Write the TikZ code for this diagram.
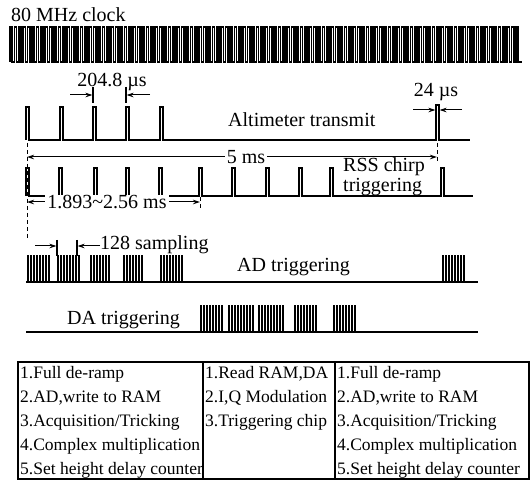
\documentclass[tikz,border=0pt]{standalone}
\usepackage{fontspec}
\setmainfont{Liberation Serif}
\usetikzlibrary{arrows.meta}
\begin{document}
\begin{tikzpicture}[x=1pt,y=-1pt,
  lbl/.style={font=\fontsize{20}{22}\selectfont, inner sep=0pt},
  tbl/.style={font=\fontsize{17.5}{24}\selectfont, inner sep=0pt, align=left, anchor=north west},
  sig/.style={line width=1.3pt, line join=miter},
  clk/.style={line width=1.5pt, line join=miter},
  wire/.style={line width=1.6pt},
  burst/.style={line width=0.9pt},
  tick/.style={line width=1.1pt},
  dimarr/.style={line width=1pt, -{Stealth[length=7pt,width=4.5pt]}},
  dimboth/.style={line width=1pt, {Stealth[length=7pt,width=4.5pt]}-{Stealth[length=7pt,width=4.5pt]}},
  guide/.style={line width=1pt, dash pattern=on 4pt off 3pt},
  gap/.style={lbl, fill=white, inner xsep=2pt, inner ysep=0pt}]
\useasboundingbox (0,0) rectangle (531,481);

% ---- 80 MHz clock
\node[lbl, anchor=base west] (clklbl) at (11,22) {80 MHz clock};
\draw[clk] (10,62) foreach \i in {0,...,115} { -- ++(0,-35) -- ++(2.2,0) -- ++(0,35) -- ++(2.2,0) } -- ++(2,0);

% ---- Altimeter transmit
\draw[sig] (26,140) foreach \x in {26,60,93,126,160} { -- (\x,140) -- (\x,107) -- (\x+3,107) -- (\x+3,140) }
  -- (436,140) -- (436,105) -- (439,105) -- (439,140) -- (470,140);
\node[lbl, anchor=base west] (altlbl) at (228,127) {Altimeter transmit};

% 204.8 us
\node[lbl, anchor=base] (pri) at (112,87) {204.8 µs};
\coordinate (tkAt) at (93,87);  \coordinate (tkAb) at (93,103);
\coordinate (tkBt) at (126,87); \coordinate (tkBb) at (126,103);
\draw[tick] (tkAt) -- (tkAb);
\draw[tick] (tkBt) -- (tkBb);
\coordinate (prA) at (70,95); \coordinate (prAe) at (92.5,95);
\coordinate (prB) at (150,95); \coordinate (prBe) at (126.5,95);
\draw[dimarr] (prA) -- (prAe);
\draw[dimarr] (prB) -- (prBe);

% 24 us
\node[lbl, anchor=base] (pw) at (436,97) {24 µs};
\coordinate (pwA) at (413,110); \coordinate (pwAe) at (435.5,110);
\coordinate (pwB) at (462,110); \coordinate (pwBe) at (439.5,110);
\draw[dimarr] (pwA) -- (pwAe);
\draw[dimarr] (pwB) -- (pwBe);

% ---- 5 ms
\coordinate (gL1) at (27,143); \coordinate (gL2) at (27,240);
\coordinate (gR1) at (437,143); \coordinate (gR2) at (437,162);
\coordinate (gM1) at (200,197); \coordinate (gM2) at (200,209);
\draw[guide] (gL1) -- (gL2);
\draw[guide] (gR1) -- (gR2);
\draw[guide] (gM1) -- (gM2);
\coordinate (fiveL) at (27,157); \coordinate (fiveR) at (437,157);
\draw[dimboth] (fiveL) -- (fiveR);
\node[gap] (five) at (246,157) {5 ms};

% ---- RSS chirp triggering
\draw[sig] (26,196) foreach \x in {26,59,94,126,159,199,232,266,299,330,441} { -- (\x,196) -- (\x,168) -- (\x+3,168) -- (\x+3,196) } -- (473,196);
\node[lbl, anchor=base west] (rssA) at (343,172) {RSS chirp};
\node[lbl, anchor=base west] (rssB) at (343,192) {triggering};

% 1.893~2.56 ms
\coordinate (winL) at (27,202); \coordinate (winR) at (200,202);
\draw[dimboth] (winL) -- (winR);
\node[gap] (win) at (107,202) {1.893\char`~2.56 ms};

% ---- AD triggering
\draw[wire] (26,282) -- (478,282);
\foreach \a/\n in {27/7,57/7,90/6,123/6,160/7,442/7} {
  \foreach \i in {0,...,\n} {
    \draw[burst] (\a+3*\i,282) -- (\a+3*\i,255) -- (\a+3*\i+1.4,255) -- (\a+3*\i+1.4,282);
  }
}
\node[lbl, anchor=base west] (adlbl) at (237,272) {AD triggering};

% 128 sampling
\coordinate (smAt) at (57,240); \coordinate (smAb) at (57,256);
\coordinate (smBt) at (77,240); \coordinate (smBb) at (77,256);
\draw[tick] (smAt) -- (smAb);
\draw[tick] (smBt) -- (smBb);
\node[lbl, anchor=base west] (smp) at (100,250) {128 sampling};
\coordinate (smA) at (35,246); \coordinate (smAe) at (56.5,246);
\coordinate (smB) at (100,246); \coordinate (smBe) at (77.5,246);
\draw[dimarr] (smA) -- (smAe);
\draw[dimarr] (smB) -- (smBe);

% ---- DA triggering
\draw[wire] (26,332) -- (478,332);
\foreach \a/\n in {200/7,228/8,258/8,294/7,333/7} {
  \foreach \i in {0,...,\n} {
    \draw[burst] (\a+3*\i,332) -- (\a+3*\i,305) -- (\a+3*\i+1.4,305) -- (\a+3*\i+1.4,332);
  }
}
\node[lbl, anchor=base west] (dalbl) at (67,325) {DA triggering};

% ---- Table
\draw[line width=1.3pt] (18,362) rectangle (529,479);
\draw[line width=1.3pt] (203,362) -- (203,479);
\draw[line width=1.3pt] (335,362) -- (335,479);
\node[tbl] (colA) at (20,366) {1.Full de-ramp\\2.AD,write to RAM\\3.Acquisition/Tricking\\4.Complex multiplication\\5.Set height delay counter};
\node[tbl] (colB) at (205,366) {1.Read RAM,DA\\2.I,Q Modulation\\3.Triggering chip};
\node[tbl] (colC) at (337,366) {1.Full de-ramp\\2.AD,write to RAM\\3.Acquisition/Tricking\\4.Complex multiplication\\5.Set height delay counter};
\end{tikzpicture}
\end{document}
